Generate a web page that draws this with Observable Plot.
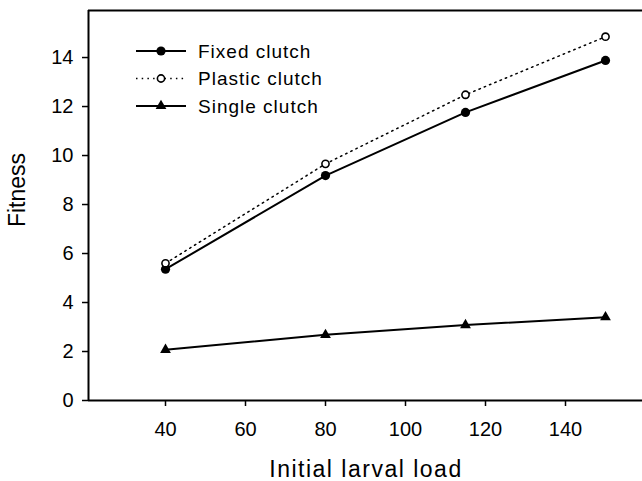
<!DOCTYPE html>
<html>
<head>
<meta charset="utf-8">
<script src="https://cdn.jsdelivr.net/npm/d3@7"></script>
<script src="https://cdn.jsdelivr.net/npm/@observablehq/plot@0.6"></script>
<style>
  html, body { margin: 0; padding: 0; background: #fff; overflow: hidden; }
  #chart { position: relative; width: 642px; height: 481px; }
  #chart svg { display: block; }
</style>
</head>
<body>
<div id="chart"></div>
<script>
// ---- data ----
const larvalLoad = [40, 80, 115, 150];
const fixedClutch = [5.36, 9.18, 11.76, 13.88];
const plasticClutch = [5.60, 9.66, 12.48, 14.85];
const singleClutch = [2.07, 2.68, 3.08, 3.40];
const xTicks = [40, 60, 80, 100, 120, 140];
const yTicks = [0, 2, 4, 6, 8, 10, 12, 14];
const seriesNames = ["Fixed clutch", "Plastic clutch", "Single clutch"];
const xTitle = "Initial larval load";
const yTitle = "Fitness";

const xDomain = [20.75, 159.25];
const yDomain = [0, 15.92];

const rows = (vals) => larvalLoad.map((x, i) => ({x, y: vals[i]}));
const fixedRows = rows(fixedClutch);
const plasticRows = rows(plasticClutch);
const singleRows = rows(singleClutch);

const font = "Arial, 'Liberation Sans', Helvetica, sans-serif";
const dotted = "1.5 4.2";

const chart = Plot.plot({
  width: 642,
  height: 481,
  marginLeft: 88,
  marginRight: 0,
  marginTop: 10,
  marginBottom: 81,
  style: {fontFamily: font, fontSize: "20px", color: "#000", background: "#fff"},
  x: {domain: xDomain, ticks: xTicks, label: null},
  y: {domain: yDomain, ticks: yTicks, label: null},
  marks: [
    Plot.axisX(xTicks, {tickSize: 6, tickPadding: 15, strokeWidth: 1.5, fontSize: 20, label: null}),
    Plot.axisY(yTicks, {tickSize: 6, tickPadding: 9, strokeWidth: 1.5, fontSize: 20, label: null}),
    Plot.ruleY([yDomain[0]], {stroke: "#000", strokeWidth: 2}),
    Plot.ruleY([yDomain[1]], {stroke: "#000", strokeWidth: 2}),
    Plot.ruleX([xDomain[0]], {stroke: "#000", strokeWidth: 2}),
    Plot.line(plasticRows, {x: "x", y: "y", stroke: "#000", strokeWidth: 1.5, strokeDasharray: dotted}),
    Plot.line(fixedRows, {x: "x", y: "y", stroke: "#000", strokeWidth: 2}),
    Plot.line(singleRows, {x: "x", y: "y", stroke: "#000", strokeWidth: 2}),
    Plot.dot(fixedRows, {x: "x", y: "y", r: 4.6, fill: "#000", stroke: "none"}),
    Plot.dot(plasticRows, {x: "x", y: "y", r: 3.6, fill: "#fff", stroke: "#000", strokeWidth: 1.6}),
    Plot.dot(singleRows, {x: "x", y: "y", r: 4, symbol: "triangle", fill: "#000", stroke: "none"})
  ]
});
document.getElementById("chart").appendChild(chart);

// ---- titles and legend added to the same svg ----
const svg = d3.select(chart);
svg.append("text")
  .attr("x", 366).attr("y", 477)
  .attr("text-anchor", "middle")
  .attr("font-family", font).attr("font-size", 23)
  .attr("letter-spacing", "1.5px")
  .attr("fill", "#000")
  .text(xTitle);
svg.append("text")
  .attr("transform", "translate(25,190) rotate(-90)")
  .attr("text-anchor", "middle")
  .attr("font-family", font).attr("font-size", 23)
  .attr("fill", "#000")
  .text(yTitle);

const legendRowY = [51, 78.5, 106];
const lg = svg.append("g");
seriesNames.forEach((name, i) => {
  const y = legendRowY[i];
  const line = lg.append("line")
    .attr("x1", 136).attr("x2", 186).attr("y1", y).attr("y2", y)
    .attr("stroke", "#000");
  if (i === 1) line.attr("stroke-width", 1.5).attr("stroke-dasharray", dotted);
  else line.attr("stroke-width", 2);
  if (i === 0) lg.append("circle").attr("cx", 161).attr("cy", y).attr("r", 4.6).attr("fill", "#000");
  if (i === 1) lg.append("circle").attr("cx", 161).attr("cy", y).attr("r", 3.6).attr("fill", "#fff").attr("stroke", "#000").attr("stroke-width", 1.6);
  if (i === 2) lg.append("path").attr("transform", `translate(161,${y})`).attr("d", d3.symbol(d3.symbolTriangle, Math.PI * 16)()).attr("fill", "#000");
  lg.append("text")
    .attr("x", 198).attr("y", y).attr("dy", "0.35em")
    .attr("text-anchor", "start")
    .attr("font-family", font).attr("font-size", 19)
    .attr("letter-spacing", "1px")
    .attr("fill", "#000")
    .text(name);
});
</script>
</body>
</html>
